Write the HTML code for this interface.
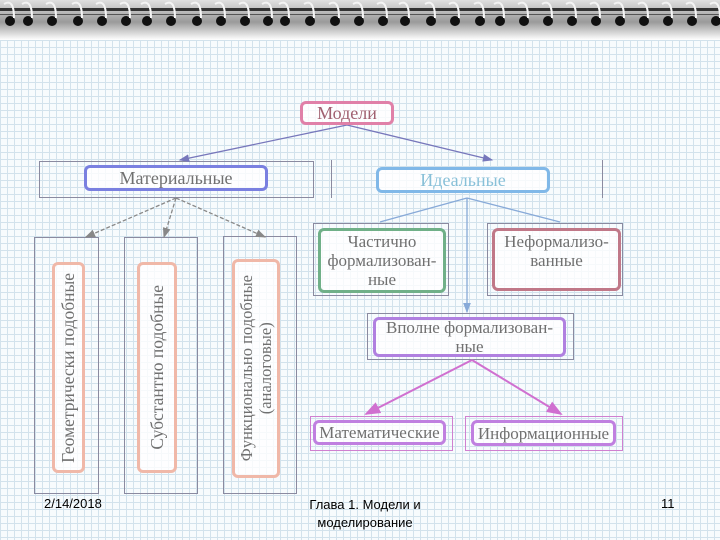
<!DOCTYPE html>
<html><head><meta charset="utf-8"><style>
html,body{margin:0;padding:0;}
body{width:720px;height:540px;position:relative;overflow:hidden;background:#fff;font-family:"Liberation Serif",serif;}
.grid{position:absolute;left:0;top:40px;width:720px;height:500px;background-color:#f7fbfd;
background-image:linear-gradient(#d2e2ec 1px,transparent 1px),linear-gradient(90deg,#d2e2ec 1px,transparent 1px);background-size:7px 7px;}
.b{position:absolute;box-sizing:border-box;}
.o{border:1px solid #8a8aa0;}
.r{border-radius:6px;border:3px solid;display:flex;align-items:center;justify-content:center;text-align:center;color:#707070;font-size:17px;line-height:19px;background:rgba(255,255,255,0.8);}
.v{writing-mode:vertical-rl;transform:rotate(180deg);}
.ft{position:absolute;font-family:"Liberation Sans",sans-serif;font-size:13px;color:#000;}
</style></head><body>
<div class="grid"></div>
<svg style="position:absolute;left:0;top:0" width="720" height="40">
<defs><linearGradient id="g" x1="0" y1="0" x2="0" y2="1"><stop offset="0" stop-color="#e0e0e0"/><stop offset="0.55" stop-color="#9a9a9a"/><stop offset="1" stop-color="#ffffff"/></linearGradient></defs>
<rect x="0" y="0" width="720" height="40" fill="url(#g)"/>
<rect x="0" y="8" width="720" height="3" fill="#333"/>
<rect x="0" y="14" width="720" height="1" fill="#555"/>
<g fill="#111">
<circle cx="10" cy="21" r="5"/><circle cx="28" cy="21" r="5"/><circle cx="52" cy="21" r="5"/><circle cx="78" cy="21" r="5"/><circle cx="102" cy="21" r="5"/><circle cx="126" cy="21" r="5"/><circle cx="147" cy="21" r="5"/><circle cx="171" cy="21" r="5"/><circle cx="197" cy="21" r="5"/><circle cx="221" cy="21" r="5"/><circle cx="245" cy="21" r="5"/><circle cx="268" cy="21" r="5"/><circle cx="285" cy="21" r="5"/><circle cx="310" cy="21" r="5"/><circle cx="335" cy="21" r="5"/><circle cx="359" cy="21" r="5"/><circle cx="383" cy="21" r="5"/><circle cx="405" cy="21" r="5"/><circle cx="431" cy="21" r="5"/><circle cx="455" cy="21" r="5"/><circle cx="480" cy="21" r="5"/><circle cx="500" cy="21" r="5"/><circle cx="524" cy="21" r="5"/><circle cx="548" cy="21" r="5"/><circle cx="572" cy="21" r="5"/><circle cx="596" cy="21" r="5"/><circle cx="620" cy="21" r="5"/><circle cx="644" cy="21" r="5"/><circle cx="668" cy="21" r="5"/><circle cx="692" cy="21" r="5"/><circle cx="716" cy="21" r="5"/>
</g>
<g fill="none" stroke="#f4f4f4" stroke-width="2">
<path d="M4 4 Q14 -2 14 18"/><path d="M22 4 Q32 -2 32 18"/><path d="M46 4 Q56 -2 56 18"/><path d="M72 4 Q82 -2 82 18"/><path d="M96 4 Q106 -2 106 18"/><path d="M120 4 Q130 -2 130 18"/><path d="M141 4 Q151 -2 151 18"/><path d="M165 4 Q175 -2 175 18"/><path d="M191 4 Q201 -2 201 18"/><path d="M215 4 Q225 -2 225 18"/><path d="M239 4 Q249 -2 249 18"/><path d="M262 4 Q272 -2 272 18"/><path d="M279 4 Q289 -2 289 18"/><path d="M304 4 Q314 -2 314 18"/><path d="M329 4 Q339 -2 339 18"/><path d="M353 4 Q363 -2 363 18"/><path d="M377 4 Q387 -2 387 18"/><path d="M399 4 Q409 -2 409 18"/><path d="M425 4 Q435 -2 435 18"/><path d="M449 4 Q459 -2 459 18"/><path d="M474 4 Q484 -2 484 18"/><path d="M494 4 Q504 -2 504 18"/><path d="M518 4 Q528 -2 528 18"/><path d="M542 4 Q552 -2 552 18"/><path d="M566 4 Q576 -2 576 18"/><path d="M590 4 Q600 -2 600 18"/><path d="M614 4 Q624 -2 624 18"/><path d="M638 4 Q648 -2 648 18"/><path d="M662 4 Q672 -2 672 18"/><path d="M686 4 Q696 -2 696 18"/><path d="M710 4 Q720 -2 720 18"/>
</g>
</svg>

<div class="b o" style="left:39px;top:161px;width:275px;height:37px"></div>
<div class="b" style="left:331px;top:160px;width:1px;height:38px;background:#8a8aa0"></div>
<div class="b" style="left:602px;top:160px;width:1px;height:38px;background:#8a8aa0"></div>
<div class="b o" style="left:34px;top:237px;width:65px;height:257px"></div>
<div class="b o" style="left:124px;top:237px;width:74px;height:257px"></div>
<div class="b o" style="left:223px;top:236px;width:74px;height:258px"></div>
<div class="b o" style="left:313px;top:223px;width:136px;height:73px"></div>
<div class="b o" style="left:487px;top:223px;width:136px;height:73px"></div>
<div class="b o" style="left:367px;top:313px;width:207px;height:47px"></div>
<div class="b o" style="left:310px;top:416px;width:143px;height:35px;border-color:#d080d0"></div>
<div class="b o" style="left:465px;top:416px;width:158px;height:35px;border-color:#d080d0"></div>

<svg style="position:absolute;left:0;top:0" width="720" height="540">
<defs>
<marker id="a1" markerWidth="8" markerHeight="8" refX="7" refY="4" orient="auto"><path d="M0,1 L8,4 L0,7z" fill="#7777bb"/></marker>
<marker id="a2" markerWidth="8" markerHeight="8" refX="7" refY="4" orient="auto"><path d="M0,1 L8,4 L0,7z" fill="#88aad8"/></marker>
<marker id="a3" markerWidth="8" markerHeight="8" refX="7" refY="4" orient="auto"><path d="M0,1 L8,4 L0,7z" fill="#888"/></marker>
<marker id="a4" markerWidth="8" markerHeight="8" refX="7" refY="4" orient="auto"><path d="M0,1 L8,4 L0,7z" fill="#d070d0"/></marker>
</defs>
<g stroke-width="1.3" fill="none">
<line x1="347" y1="125" x2="180" y2="160" stroke="#7777bb" marker-end="url(#a1)"/>
<line x1="347" y1="125" x2="492" y2="160" stroke="#7777bb" marker-end="url(#a1)"/>
<line x1="467" y1="198" x2="380" y2="222" stroke="#88aad8"/>
<line x1="467" y1="198" x2="560" y2="222" stroke="#88aad8"/>
<line x1="467" y1="198" x2="467" y2="312" stroke="#88aad8" marker-end="url(#a2)"/>
<line x1="176" y1="198" x2="86" y2="237" stroke="#888" stroke-dasharray="4,2" marker-end="url(#a3)"/>
<line x1="176" y1="198" x2="164" y2="237" stroke="#888" stroke-dasharray="4,2" marker-end="url(#a3)"/>
<line x1="176" y1="198" x2="265" y2="237" stroke="#888" stroke-dasharray="4,2" marker-end="url(#a3)"/>
<line x1="472" y1="360" x2="366" y2="414" stroke="#d070d0" stroke-width="2" marker-end="url(#a4)"/>
<line x1="472" y1="360" x2="561" y2="414" stroke="#d070d0" stroke-width="2" marker-end="url(#a4)"/>
</g>
</svg>

<div class="b r" style="left:300px;top:101px;width:94px;height:24px;border-color:#e080a8;color:#a06070;font-size:18px">Модели</div>
<div class="b r" style="left:84px;top:165px;width:184px;height:26px;border-color:#7a80e0;font-size:18px">Материальные</div>
<div class="b r" style="left:376px;top:167px;width:174px;height:26px;border-color:#80b8e8;color:#88c0d8;font-size:18px">Идеальные</div>
<div class="b r" style="left:318px;top:228px;width:128px;height:65px;border-color:#70b088;align-items:flex-start;padding-top:1px">Частично<br>формализован-<br>ные</div>
<div class="b r" style="left:492px;top:228px;width:129px;height:63px;border-color:#c07888;align-items:flex-start;padding-top:1px">Неформализо-<br>ванные</div>
<div class="b r" style="left:373px;top:317px;width:193px;height:40px;border-color:#b080e0">Вполне формализован-<br>ные</div>
<div class="b r" style="left:313px;top:420px;width:133px;height:25px;border-color:#c080e0">Математические</div>
<div class="b r" style="left:471px;top:420px;width:145px;height:26px;border-color:#c080e0">Информационные</div>
<div class="b r" style="left:52px;top:262px;width:33px;height:211px;border-color:#f0b8a8;font-size:17.5px"><span class="v">Геометрически подобные</span></div>
<div class="b r" style="left:137px;top:262px;width:40px;height:211px;border-color:#f0b8a8;font-size:17.5px"><span class="v">Субстантно подобные</span></div>
<div class="b r" style="left:232px;top:259px;width:48px;height:219px;border-color:#f0b8a8;font-size:16.5px;line-height:19px"><span class="v">Функционально подобные<br>(аналоговые)</span></div>

<div class="ft" style="left:44px;top:496px">2/14/2018</div>
<div class="ft" style="left:280px;top:496px;width:170px;text-align:center;line-height:18px">Глава 1. Модели и<br>моделирование</div>
<div class="ft" style="left:661px;top:496px">11</div>
</body></html>
